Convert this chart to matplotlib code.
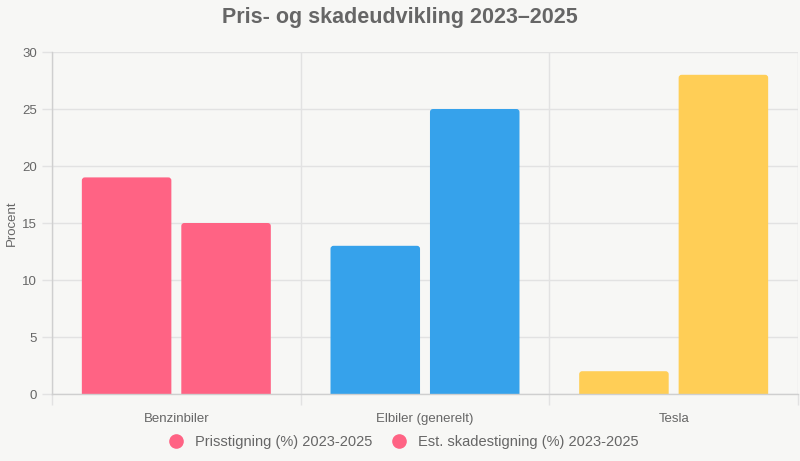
import matplotlib
matplotlib.use("Agg")
import matplotlib.pyplot as plt
from matplotlib.lines import Line2D
from matplotlib.patches import FancyBboxPatch
import numpy as np

categories = ["Benzinbiler", "Elbiler (generelt)", "Tesla"]
series_names = ["Prisstigning (%) 2023-2025", "Est. skadestigning (%) 2023-2025"]
pris = [19, 13, 2]
skade = [15, 25, 28]
cat_colors = ["#FF6384", "#36A2EB", "#FFCE56"]
yticks = [0, 5, 10, 15, 20, 25, 30]

plt.rcParams['font.family'] = ['Liberation Sans', 'DejaVu Sans']
bg = "#f7f7f5"
txt = "#666666"
grid = "#e2e2e2"

fig = plt.figure(figsize=(8, 4.61), dpi=100, facecolor=bg)
ax = fig.add_axes([0.065, 0.1453, 0.9325, 0.7419], facecolor=bg)

x = np.arange(len(categories))
bw = 0.36
b1 = ax.bar(x - 0.2, pris, width=bw, color=cat_colors, zorder=3)
b2 = ax.bar(x + 0.2, skade, width=bw, color=cat_colors, zorder=3)

ax.set_xlim(-0.5, len(categories) - 0.5)
ax.set_ylim(0, 30)

# rounded top corners
fig.canvas.draw()
bbox = ax.get_window_extent()
xpp = (ax.get_xlim()[1] - ax.get_xlim()[0]) / bbox.width
ypp = (ax.get_ylim()[1] - ax.get_ylim()[0]) / bbox.height
r = 3.0
for p in list(b1.patches) + list(b2.patches):
    px, py, pw, ph = p.get_x(), p.get_y(), p.get_width(), p.get_height()
    fc = p.get_facecolor()
    p.set_visible(False)
    rp = FancyBboxPatch((px, py - r * ypp), pw, ph + r * ypp,
                        boxstyle=f"round,pad=0,rounding_size={r * xpp}",
                        mutation_aspect=ypp / xpp, facecolor=fc, edgecolor='none',
                        zorder=3)
    ax.add_patch(rp)

ax.set_yticks(yticks)
ax.set_yticklabels([str(v) for v in yticks])
ax.set_xticks(x)
ax.set_xticklabels(categories)
ax.set_xticks(np.arange(len(categories) + 1) - 0.5, minor=True)

ax.tick_params(axis='x', which='major', length=0, pad=14, labelsize=9.5, labelcolor=txt)
ax.tick_params(axis='x', which='minor', length=8, color=grid, width=1)
ax.tick_params(axis='y', which='major', length=7, color=grid, width=1, pad=4, labelsize=9.5, labelcolor=txt)

ax.grid(True, axis='y', which='major', color=grid, linewidth=1, zorder=0)
ax.grid(True, axis='x', which='minor', color=grid, linewidth=1, zorder=0)
ax.grid(False, axis='x', which='major')

for s in ['top', 'right']:
    ax.spines[s].set_visible(False)
for s in ['left', 'bottom']:
    ax.spines[s].set_color("#cfcfcf")
    ax.spines[s].set_linewidth(1)
    ax.spines[s].set_zorder(4)

fig.text(12 / 800, 1 - 223 / 461, "Procent", rotation=90, color=txt, fontsize=9.5,
         ha='center', va='center')

fig.text(0.5, 1 - 18 / 461, "Pris- og skadeudvikling 2023–2025", fontsize=15.5,
         fontweight='bold', color=txt, ha='center', va='center')

handles = [Line2D([0], [0], marker='o', linestyle='none', markersize=9.5,
                  markerfacecolor=cat_colors[0], markeredgecolor=cat_colors[0])
           for _ in series_names]
fig.legend(handles, series_names, loc='center', bbox_to_anchor=(0.5, 1 - 442 / 461),
           ncol=2, frameon=False, fontsize=10.5, labelcolor=txt,
           handletextpad=0.3, columnspacing=0.8)

fig.savefig("out.png", dpi=100, facecolor=bg)
